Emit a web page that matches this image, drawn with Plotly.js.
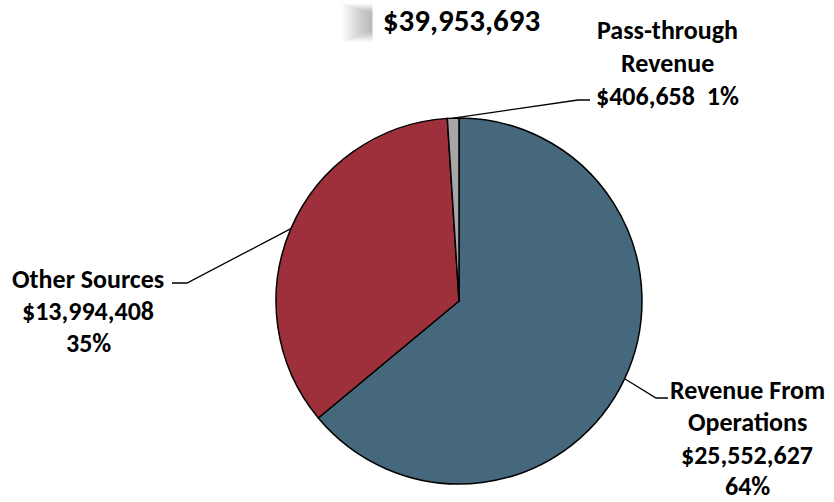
<!DOCTYPE html>
<html>
<head>
<meta charset="utf-8">
<script src="https://cdn.plot.ly/plotly-3.0.1.min.js"></script>
<style>html,body{margin:0;padding:0;background:#fff}#chart{width:834px;height:502px}</style>
</head>
<body>
<div id="chart"></div>
<script>
// ---- data ----
const categories = ['Revenue From Operations', 'Other Sources', 'Pass-through Revenue'];
const values = [25552627, 13994408, 406658];
const labelLines = [['Revenue From', 'Operations'], ['Other Sources'], ['Pass-through', 'Revenue']];
const colors = ['#45687D', '#9E303B', '#A6A6A6'];

// ---- layout helpers ----
const W = 834, H = 502;
const cx = 459, cy = 301, R = 183;
const px = x => x / W;
const py = y => 1 - y / H;
const FONT = 'Carlito, Calibri, Lato, sans-serif';
const FS = 26;

const total = values.reduce((a, b) => a + b, 0);
const fmt = v => '$' + v.toLocaleString('en-US');
const pct = v => Math.round(v / total * 100) + '%';

// label placement (pixel) per slice
const labelPos = [
  {x: 747, ys: [390, 422, 455, 486], elbow: [656, 398], end: [668, 398], joinLast: false},
  {x: 88, ys: [279, 311, 343], elbow: [187, 283], end: [172, 283], joinLast: false},
  {x: 667, ys: [30, 63, 96], elbow: [578, 100], end: [590, 100], joinLast: true}
];

const annotations = [];
const shapes = [];
let cum = 0;
values.forEach((v, i) => {
  const mid = (cum + v / 2) / total;
  cum += v;
  const th = 2 * Math.PI * mid;
  const ex = cx + R * Math.sin(th), ey = cy - R * Math.cos(th);
  const lp = labelPos[i];
  shapes.push({
    type: 'path', xref: 'paper', yref: 'paper',
    path: `M ${px(ex)} ${py(ey)} L ${px(lp.elbow[0])} ${py(lp.elbow[1])} L ${px(lp.end[0])} ${py(lp.end[1])}`,
    line: {color: '#000', width: 1.3}
  });
  let lines = labelLines[i].slice();
  if (lp.joinLast) lines.push(fmt(v) + '&nbsp;&nbsp;' + pct(v));
  else { lines.push(fmt(v)); lines.push(pct(v)); }
  lines.forEach((t, k) => {
    annotations.push({
      xref: 'paper', yref: 'paper', x: px(lp.x), y: py(lp.ys[k]),
      xanchor: 'center', yanchor: 'middle', showarrow: false,
      text: '<b>' + t + '</b>', font: {family: FONT, size: FS, color: '#000'}
    });
  });
});

// total box with soft shadow
for (let k = 0; k < 16; k++) {
  shapes.push({
    type: 'rect', xref: 'paper', yref: 'paper', layer: 'above',
    x0: px(372 - k * 2), x1: px(545), y0: py(30 + k * 0.8), y1: py(13 - k * 0.6),
    fillcolor: 'rgba(60,60,60,0.025)', line: {width: 0}
  });
}
annotations.push({
  xref: 'paper', yref: 'paper', x: px(461), y: py(20),
  xanchor: 'center', yanchor: 'middle', showarrow: false,
  width: 175, height: 40, bgcolor: '#fff',
  text: '<b>' + fmt(total) + '</b>', font: {family: FONT, size: 31, color: '#000'}
});

const trace = {
  type: 'pie',
  values: values,
  labels: categories,
  sort: false,
  direction: 'clockwise',
  rotation: 0,
  textinfo: 'none',
  hoverinfo: 'label+value+percent',
  marker: {colors: colors, line: {color: '#000', width: 1.5}},
  domain: {x: [px(cx - R), px(cx + R)], y: [py(cy + R), py(cy - R)]},
  showlegend: false
};

Plotly.newPlot('chart', [trace], {
  width: W, height: H,
  margin: {l: 0, r: 0, t: 0, b: 0},
  paper_bgcolor: '#fff',
  showlegend: false,
  shapes: shapes,
  annotations: annotations
}, {displayModeBar: false, staticPlot: true});
</script>
</body>
</html>
